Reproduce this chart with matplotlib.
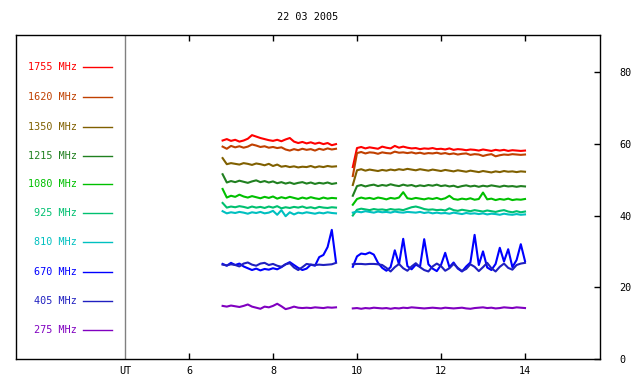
import numpy as np
import matplotlib
matplotlib.use("Agg")
import matplotlib.pyplot as plt

plt.rcParams['font.family'] = ['DejaVu Sans Mono']

title = "22 03 2005"
freqs = ["1755", "1620", "1350", "1215", "1080", "925", "810", "670", "405", "275"]
colors = ["#ff0000", "#c04000", "#806000", "#208020", "#00c000",
          "#00c070", "#00c0c0", "#0000ff", "#2020c0", "#8000c0"]

# time axis (UT hours) of the two recorded segments
t1 = np.round(np.arange(6.8, 9.55, 0.1), 2)    # 28 samples
t2 = np.round(np.arange(9.9, 14.05, 0.1), 2)   # 42 samples

s1 = {
    "1755": [60.9,61.3,60.8,61.1,60.6,60.9,61.4,62.4,62.0,61.6,
             61.3,61.0,60.8,61.1,60.7,61.2,61.6,60.6,60.2,60.5,
             60.1,60.4,60.0,60.3,59.9,60.2,59.6,59.9],
    "1620": [59.2,58.6,59.4,59.0,59.3,58.9,59.2,59.8,59.5,59.1,
             59.3,58.9,59.1,58.8,59.0,58.4,58.1,58.5,58.2,58.6,
             58.3,58.5,58.1,58.6,58.3,58.7,58.4,58.6],
    "1350": [56.0,54.3,54.6,54.4,54.2,54.6,54.4,54.1,54.5,54.3,
             54.0,54.4,53.8,54.2,53.6,53.8,53.5,53.7,53.4,53.6,
             53.5,53.8,53.4,53.7,53.5,53.8,53.6,53.7],
    "1215": [51.5,49.2,49.6,49.3,49.7,49.4,49.1,49.5,49.8,49.3,
             49.6,49.2,49.5,49.0,49.3,48.9,49.2,48.8,49.1,49.3,
             48.9,49.2,48.8,49.1,48.9,49.2,48.8,49.0],
    "1080": [47.4,45.0,45.5,45.2,45.8,45.3,45.0,45.4,45.1,44.8,
             45.2,44.9,45.3,44.7,45.1,44.8,45.2,44.9,44.6,45.0,
             44.7,45.1,44.8,44.6,45.0,44.7,44.9,44.8],
    "925":  [43.5,42.2,42.5,42.3,42.6,42.4,42.1,42.5,42.2,42.4,
             42.1,42.5,42.2,42.6,42.0,42.3,42.1,42.4,42.2,42.5,
             42.1,42.3,42.0,42.4,42.2,42.1,42.3,42.2],
    "810":  [41.2,40.6,40.9,40.7,41.0,40.8,40.5,40.9,40.7,41.0,
             40.6,40.8,41.3,40.2,41.5,39.8,40.9,40.3,40.8,40.6,
             40.9,40.7,40.5,40.8,40.6,40.9,40.7,40.6],
    "670":  [26.5,26.0,26.8,26.2,26.6,25.8,25.3,24.8,25.2,24.7,
             25.1,24.9,25.3,25.0,25.6,26.4,27.0,26.2,25.4,24.8,
             25.2,26.3,26.0,28.4,29.0,31.2,36.0,27.0],
    "405":  [26.3,26.1,26.4,26.2,25.8,26.6,26.9,26.3,26.0,26.6,
             26.8,26.2,26.5,26.0,25.7,26.4,26.7,25.5,24.8,25.6,
             26.5,26.3,26.2,26.3,26.2,26.3,26.4,26.8],
    "275":  [14.8,14.6,14.9,14.7,14.5,14.8,15.2,14.6,14.3,14.0,
             14.6,14.4,14.8,15.4,14.7,13.9,14.2,14.6,14.3,14.2,
             14.3,14.2,14.4,14.3,14.2,14.4,14.3,14.4],
}

s2 = {
    "1755": [53.5,58.8,59.1,58.7,59.0,58.8,58.6,59.2,58.9,58.7,
             59.4,58.9,59.2,58.9,58.7,58.8,58.5,58.7,58.6,58.8,
             58.5,58.6,58.4,58.7,58.3,58.5,58.4,58.2,58.4,58.3,
             58.1,58.4,58.2,58.0,58.3,58.1,58.3,58.0,58.2,58.1,
             58.0,58.1],
    "1620": [51.0,57.4,57.7,57.3,57.6,57.5,57.2,57.6,57.4,57.3,
             57.8,57.5,57.6,57.4,57.6,57.3,57.5,57.2,57.4,57.3,
             57.5,57.2,57.4,57.1,57.3,57.0,57.2,57.3,56.9,57.1,
             57.0,56.6,56.9,57.1,56.5,56.8,57.0,56.9,57.1,57.0,
             56.9,57.0],
    "1350": [48.5,52.6,52.9,52.5,52.8,52.6,52.4,52.7,52.5,52.8,
             52.6,52.9,52.7,53.0,52.8,52.6,52.9,52.7,52.5,52.8,
             52.6,52.4,52.7,52.5,52.3,52.6,52.4,52.2,52.5,52.3,
             52.1,52.4,52.2,52.0,52.3,52.1,52.4,52.2,52.3,52.1,
             52.3,52.2],
    "1215": [45.5,48.2,48.5,48.1,48.4,48.6,48.2,48.5,48.3,48.7,
             48.4,48.2,48.6,48.3,48.5,48.1,48.4,48.2,48.5,48.3,
             48.6,48.2,48.4,48.1,48.3,47.9,48.2,48.4,48.1,48.3,
             48.0,48.3,48.1,48.4,48.2,48.0,48.3,48.1,48.2,48.0,
             48.2,48.1],
    "1080": [43.0,44.6,45.0,44.7,44.9,44.6,45.0,44.8,44.5,44.9,
             44.7,45.0,46.5,44.8,44.6,44.9,44.7,44.5,44.8,44.6,
             44.9,44.5,44.8,45.5,44.6,44.4,44.7,44.5,44.8,44.4,
             44.6,46.4,44.5,44.7,44.3,44.6,44.4,44.7,44.3,44.5,
             44.4,44.6],
    "925":  [40.0,41.6,41.9,41.7,41.5,41.8,41.6,41.7,41.5,41.8,
             41.6,41.7,41.5,41.9,42.3,42.5,42.2,41.8,41.6,41.7,
             41.5,41.6,41.4,42.0,41.5,41.3,41.6,41.4,41.2,41.5,
             41.3,41.1,41.4,41.2,41.0,41.3,41.5,41.1,40.9,41.2,
             40.9,41.1],
    "810":  [40.8,41.1,40.9,41.2,41.0,40.8,41.1,40.9,41.0,40.8,
             41.1,40.9,40.8,41.0,40.9,40.8,41.0,40.7,40.9,40.6,
             40.8,40.6,40.7,40.5,40.8,40.6,40.4,40.7,40.5,40.6,
             40.4,40.6,40.3,40.5,40.4,40.2,40.5,40.3,40.2,40.4,
             40.2,40.3],
    "670":  [25.7,28.6,29.4,29.2,29.7,29.1,26.8,25.4,24.6,25.6,
             30.3,26.4,33.5,25.9,25.0,26.3,25.7,33.4,26.4,25.2,
             24.5,26.2,29.6,25.6,26.9,25.2,24.4,25.8,26.9,34.6,
             26.2,30.0,25.5,24.8,26.5,31.0,27.2,30.6,25.6,27.6,
             32.0,27.3],
    "405":  [26.4,26.5,26.5,26.4,26.5,26.5,26.4,26.2,25.4,24.4,
             25.6,26.5,25.3,24.6,25.8,26.7,25.6,24.8,24.4,25.8,
             26.6,25.9,24.6,25.3,26.5,25.4,24.5,25.1,26.4,25.7,
             24.5,25.6,26.8,25.3,24.4,25.7,26.6,25.4,24.9,26.2,
             26.6,26.8],
    "275":  [14.1,14.2,14.0,14.2,14.1,14.3,14.2,14.1,14.2,14.0,
             14.2,14.1,14.3,14.2,14.4,14.3,14.2,14.1,14.2,14.3,
             14.2,14.1,14.3,14.2,14.1,14.2,14.3,14.1,14.0,14.2,
             14.3,14.4,14.2,14.3,14.1,14.2,14.4,14.3,14.2,14.4,
             14.3,14.2],
}

xticks = [6, 8, 10, 12, 14]
yticks = [0, 20, 40, 60, 80]

# ---------------- layout (pixels of a 640x384 canvas) ----------------
W, H = 640, 384
L, R, T, B = 16, 600, 35, 359
px_per_h = 42.0
x_of6 = 189
xmin = 6 - (x_of6 - L) / px_per_h
xmax = 6 + (R - x_of6) / px_per_h
sep_x = 6 - (x_of6 - 125) / px_per_h
ymax = (B - T) / ((B - 72) / 80.0)

fig = plt.figure(figsize=(W / 100, H / 100), dpi=100)
ax = fig.add_axes([L / W, (H - B) / H, (R - L) / W, (B - T) / H])
ax.set_xlim(xmin, xmax)
ax.set_ylim(0, ymax)

fs = 7.3
for sp in ax.spines.values():
    sp.set_linewidth(1.0)
    sp.set_color("black")

ax.set_xticks(xticks)
ax.set_xticklabels([str(v) for v in xticks])
ax.tick_params(axis="x", direction="in", length=4, width=1, top=True,
               labeltop=False, labelsize=fs, pad=5)
ax.yaxis.tick_right()
ax.set_yticks(yticks)
ax.set_yticklabels([str(v) for v in yticks])
ax.tick_params(axis="y", direction="in", length=4, width=1, left=False,
               right=True, labelsize=fs, pad=14)

ax.axvline(sep_x, color="#808080", lw=1.0)
ax.text(sep_x, -(371 - B) / (B - T), "UT", transform=ax.get_xaxis_transform(),
        ha="center", va="center", fontsize=fs)

for f, c in zip(freqs, colors):
    ax.plot(t1, s1[f], color=c, lw=1.5)
    ax.plot(t2, s2[f], color=c, lw=1.5)

# legend column
row_y = [67, 97, 127, 156, 184, 213, 242, 272, 301, 330]
for f, c, py in zip(freqs, colors, row_y):
    fy = (B - py) / (B - T)
    ax.text((77 - L) / (R - L), fy, f"{f} MHz", transform=ax.transAxes,
            ha="right", va="center", color=c, fontsize=fs)
    ax.plot([(83 - L) / (R - L), (112 - L) / (R - L)], [fy, fy],
            transform=ax.transAxes, color=c, lw=1.0)

fig.text(((L + R) / 2) / W, 1 - 17 / H, title, ha="center", va="center",
         fontsize=fs)

fig.savefig("out.png", dpi=100)
